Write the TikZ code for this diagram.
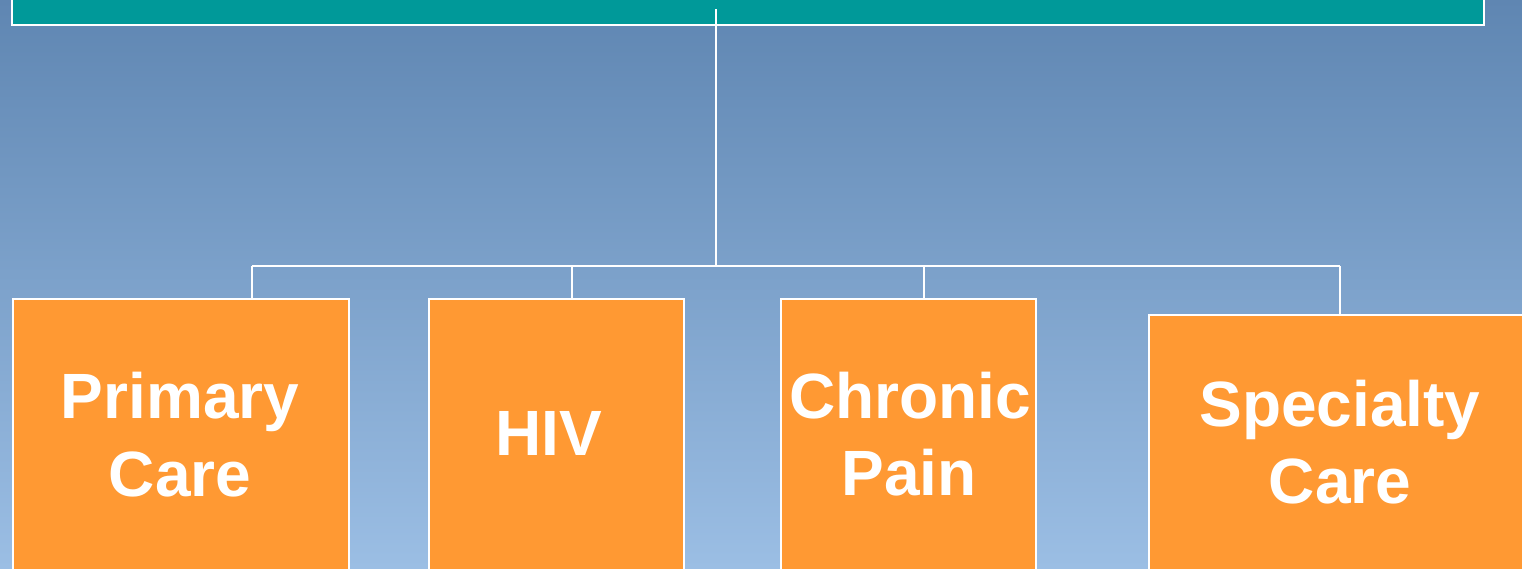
\documentclass[tikz,border=0pt]{standalone}
\usepackage{fontspec}
\setmainfont{Liberation Sans}
\definecolor{bgtop}{RGB}{95,134,178}
\definecolor{bgbot}{RGB}{155,190,228}
\definecolor{tealbar}{RGB}{0,153,153}
\definecolor{orangebox}{RGB}{255,153,51}
\tikzset{
  conn/.style={draw=white, line width=2pt},
  boxnode/.style={draw=white, line width=2pt, fill=orangebox, anchor=north west, inner sep=0pt},
  lbl/.style={text=white, font=\fontsize{64}{78}\selectfont\bfseries, anchor=base, inner sep=0pt}
}
\begin{document}
\begin{tikzpicture}[x=1pt,y=-1pt]
\useasboundingbox (0,0) rectangle (1522,568);
\clip (0,0) rectangle (1522,568);
\shade[top color=bgtop, bottom color=bgbot] (0,0) rectangle (1522,568);
% top bar
\node[draw=white, line width=2pt, fill=tealbar, anchor=south west, inner sep=0pt,
      minimum width=1472pt, minimum height=60pt] (top) at (11,25.5) {};
% boxes
\node[boxnode, minimum width=336pt, minimum height=400pt] (pc) at (11.5,297.5) {};
\node[boxnode, minimum width=255pt, minimum height=400pt] (hiv) at (428,297.5) {};
\node[boxnode, minimum width=255pt, minimum height=400pt] (cp) at (780,297.5) {};
\node[boxnode, minimum width=420pt, minimum height=400pt] (sc) at (1148,313.5) {};
% connectors
\coordinate (tp) at (716,9);
\coordinate (hub) at (716,266);
\coordinate (jl) at (252,266);
\coordinate (jh) at (572,266);
\coordinate (jc) at (924,266);
\coordinate (jr) at (1340,266);
\draw[conn] (tp) -- (hub);
\draw[conn] (jl) -- (jr);
\draw[conn] (jl) -- (jl |- pc.north);
\draw[conn] (jh) -- (jh |- hiv.north);
\draw[conn] (jc) -- (jc |- cp.north);
\draw[conn] (jr) -- (jr |- sc.north);
% labels
\node[lbl] (pc1) at (180,418) {Primary};
\node[lbl] (pc2) at (180,496) {Care};
\node[lbl] (hiv1) at (549,455) {HIV};
\node[lbl] (cp1) at (910,418) {Chronic};
\node[lbl] (cp2) at (909,495) {Pain};
\node[lbl] (sc1) at (1340,426) {Specialty};
\node[lbl] (sc2) at (1340,503) {Care};
\end{tikzpicture}
\end{document}
